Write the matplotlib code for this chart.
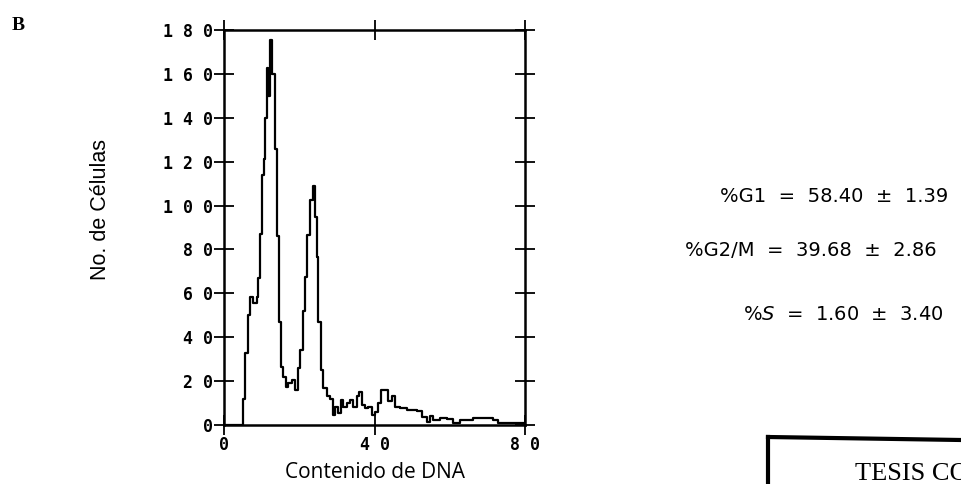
import matplotlib.pyplot as plt
import numpy as np
from matplotlib.lines import Line2D

# DNA content histogram (step trace)
dna = [0, 5.14, 5.58, 6.47, 6.91, 7.79, 8.68, 9.12, 9.57, 10.01, 10.63, 10.89,
       11.34, 11.78, 12.22, 12.67, 13.29, 13.55, 14.17, 14.61, 15.06, 15.77,
       16.47, 17.09, 17.98, 18.87, 19.57, 20.19, 21.08, 21.52, 22.14, 22.85,
       23.74, 24.18, 24.62, 25.07, 25.69, 26.40, 27.28, 28.17, 28.88, 29.49,
       30.38, 31.0, 31.71, 32.6, 33.48, 34.37, 35.25, 35.96, 36.58, 37.47,
       38.35, 39.24, 40.12, 41.0, 41.63, 42.78, 43.67, 44.55, 45.44, 46.77,
       48.54, 51.2, 52.52, 53.85, 54.74, 55.62, 57.4, 59.17, 60.94, 62.71,
       64.48, 66.25, 68.02, 69.8, 71.57, 72.9, 80]
cells = [0, 12, 32.7, 50, 58.5, 55.5, 58.5, 67, 87, 114, 121, 140,
         162.5, 150, 175.5, 160, 160, 126, 86, 47, 26.6, 22,
         17.5, 19, 20.5, 16, 25.8, 34, 52, 67.6, 86.6, 102.5,
         109, 95, 76.7, 47, 25, 16.7, 13, 12, 4.5, 8.4,
         5.3, 11.4, 8.4, 10, 11.4, 8.4, 13, 15, 9, 7.6,
         8.4, 4.5, 6, 10, 16, 16, 11, 13, 8.4, 7.6,
         6.8, 6.5, 3.8, 1.5, 4, 2.3, 3, 2.6, 1, 2.3,
         2.3, 3, 3, 3, 2.3, 0.7, 0]

xticks = [0, 40, 80]
yticks = [0, 20, 40, 60, 80, 100, 120, 140, 160, 180]

stats = ["%G1  =  58.40  ±  1.39", "%G2/M  =  39.68  ±  2.86",
         "%$\\it{S}$  =  1.60  ±  3.40"]

W, H = 961, 484
fig = plt.figure(figsize=(W / 100, H / 100), dpi=100)
ax = fig.add_axes([224 / W, 1 - 425 / H, 301 / W, 395 / H])

ax.step(dna, cells, where='post', color='black', lw=1.6)
ax.set_xlim(0, 80)
ax.set_ylim(0, 180)

ax.set_xticks(xticks)
ax.set_yticks(yticks)
tickfont = dict(family='DejaVu Sans Mono', weight='bold', size=12)
ax.set_xticklabels([' '.join(str(t)) for t in xticks], **tickfont)
ax.set_yticklabels([' '.join(str(t)) for t in yticks], **tickfont)
ax.tick_params(direction='inout', length=14, width=1.3, top=True, right=True,
               pad=1)
for s in ax.spines.values():
    s.set_linewidth(1.8)

ax.set_ylabel("No. de Células", family='Liberation Sans', fontsize=15.5, va='center')
ax.yaxis.set_label_coords(-0.41, 0.545)
ax.set_xlabel("Contenido de DNA", family='Open Sans', fontsize=15, va='center')
ax.xaxis.set_label_coords(0.5, -0.12)

fig.text(12 / W, 1 - 25 / H, "B", family='Liberation Serif', weight='bold',
         fontsize=14, va='center')

# cell cycle percentages
fig.text(720 / W, 1 - 197 / H, stats[0], family='DejaVu Sans', fontsize=14, va='center')
fig.text(685 / W, 1 - 251 / H, stats[1], family='DejaVu Sans', fontsize=14, va='center')
fig.text(743 / W, 1 - 315 / H, stats[2], family='DejaVu Sans', fontsize=14, va='center')

# stamp box at the corner
fig.add_artist(Line2D([768 / W, 1.0], [1 - 437 / H, 1 - 440 / H], color='black', lw=3))
fig.add_artist(Line2D([768 / W, 768 / W], [1 - 437 / H, 0], color='black', lw=3))
fig.text(855 / W, 1 - 474 / H, "TESIS CON", family='Liberation Serif',
         fontsize=19, va='center')

fig.savefig("out.png", dpi=100)
